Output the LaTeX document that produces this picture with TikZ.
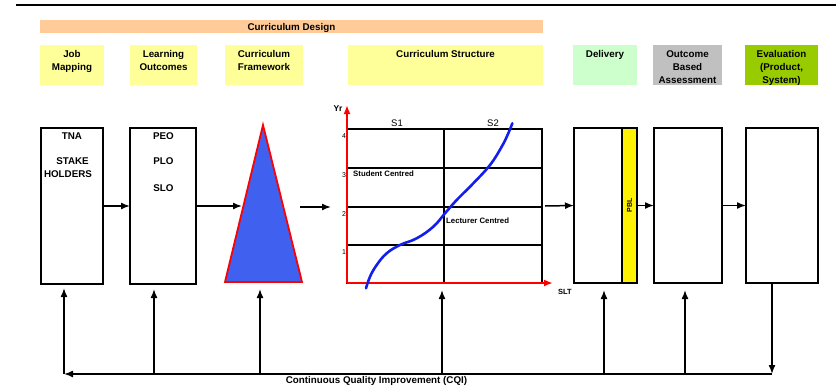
\documentclass[tikz,border=0pt]{standalone}
\usepackage{fontspec}
\setmainfont{Liberation Sans}
\usetikzlibrary{arrows.meta,calc}
\definecolor{peach}{HTML}{FFCC99}
\definecolor{paleyellow}{HTML}{FFFF99}
\definecolor{palegreen}{HTML}{CCFFCC}
\definecolor{midgray}{HTML}{C0C0C0}
\definecolor{leaf}{HTML}{99CC00}
\definecolor{fwblue}{RGB}{64,96,240}
\definecolor{curveblue}{RGB}{20,30,235}
\begin{document}
\begin{tikzpicture}[x=1pt,y=-1pt,
  hdr/.style={anchor=north west, inner sep=0, outer sep=0, minimum height=40pt},
  hdrtext/.style={anchor=north, inner sep=0, align=center, font=\fontsize{9.8}{13}\selectfont\bfseries},
  stage/.style={draw, line width=1.8pt, anchor=north west, inner sep=0, outer sep=0, minimum height=155pt},
  boxtext/.style={anchor=north, inner sep=0, font=\fontsize{9.8}{12}\selectfont\bfseries},
  arr/.style={line width=1.5pt, -{Latex[length=9pt,width=7pt]}},
  gridline/.style={line width=1.6pt},
  axis/.style={red, line width=2pt, -{Latex[length=9pt,width=7pt]}},
  chartlbl/.style={inner sep=0, font=\fontsize{7.8}{10}\selectfont\bfseries},
]
\useasboundingbox (0,0) rectangle (836,386);

% top rule
\draw[line width=1.5pt] (16,5) -- (836,5);

% ---- phase headings ----
\node[hdr, fill=peach, minimum width=503pt, minimum height=13pt] (cd) at (40,20) {};
\node[hdrtext] (cdt) at (291.5,23) {Curriculum Design};

\node[hdr, fill=paleyellow, minimum width=64pt] (hjm) at (40,45) {};
\node[hdrtext] (hjmt) at (hjm.north |- 0,50) {Job\\Mapping};
\node[hdr, fill=paleyellow, minimum width=67pt] (hlo) at (130,45) {};
\node[hdrtext] (hlot) at (hlo.north |- 0,50) {Learning\\Outcomes};
\node[hdr, fill=paleyellow, minimum width=78pt] (hcf) at (225,45) {};
\node[hdrtext] (hcft) at (hcf.north |- 0,50) {Curriculum\\Framework};
\node[hdr, fill=paleyellow, minimum width=195pt] (hcs) at (348,45) {};
\node[hdrtext] (hcst) at (hcs.north |- 0,50) {Curriculum Structure};
\node[hdr, fill=palegreen, minimum width=64pt] (hdl) at (573,45) {};
\node[hdrtext] (hdlt) at (hdl.north |- 0,50) {Delivery};
\node[hdr, fill=midgray, minimum width=69pt] (hob) at (653,45) {};
\node[hdrtext] (hobt) at (hob.north |- 0,50) {Outcome\\Based\\Assessment};
\node[hdr, fill=leaf, minimum width=73pt] (hev) at (745,45) {};
\node[hdrtext] (hevt) at (hev.north |- 0,50) {Evaluation\\(Product,\\System)};

% ---- stage boxes ----
\node[stage, minimum width=62pt, minimum height=156pt] (tna) at (41,128) {};
\node[boxtext] (tnat) at (72,133) {TNA};
\node[boxtext] (stk) at (72.5,157) {STAKE};
\node[boxtext] (hld) at (68,170) {HOLDERS};

\node[stage, minimum width=66pt, minimum height=156pt] (lo) at (130,128) {};
\node[boxtext] (peo) at (163.5,132.5) {PEO};
\node[boxtext] (plo) at (163.5,157) {PLO};
\node[boxtext] (slo) at (163.5,184) {SLO};

% curriculum framework triangle
\coordinate (fwtop) at (263,125);
\coordinate (fwbr) at (302,282);
\coordinate (fwbl) at (225,282);
\draw[red, line width=1.8pt, fill=fwblue] (fwtop) -- (fwbr) -- (fwbl) -- cycle;
\coordinate (fwin) at (242,206);
\coordinate (fwout) at (300,207);
\coordinate (chartin) at (331,207);

% curriculum structure chart
\node[draw, gridline, anchor=south west, inner sep=0, outer sep=0,
      minimum width=195pt, minimum height=154pt] (grid) at (347,283) {};
\draw[gridline] (347,168) -- (542,168);
\draw[gridline] (347,207) -- (542,207);
\draw[gridline] (347,245) -- (542,245);
\draw[gridline] (444,129) -- (444,283);
\coordinate (origin) at (347,283);
\coordinate (ytip) at (347,105);
\coordinate (xtip) at (553,283);
\draw[axis] (origin) -- (ytip);
\draw[axis] (origin) -- (xtip);
\draw[curveblue, line width=2.6pt, line cap=round] plot[smooth, tension=0.7] coordinates
  {(366,288.3) (370,276.7) (376.7,265) (386.7,253.3) (400,245) (416.7,238.3)
   (433.3,226.7) (445,213.3) (456.7,200) (473.3,183.3) (490,165) (501.7,146.7)
   (508.3,133.3) (512.3,123.3)};
\node[chartlbl, font=\fontsize{8.5}{10}\selectfont\bfseries] (yr) at (338,109) {Yr};
\node[chartlbl, font=\fontsize{7}{8}\selectfont] (t4) at (344,136) {4};
\node[chartlbl, font=\fontsize{7}{8}\selectfont] (t3) at (344,175) {3};
\node[chartlbl, font=\fontsize{7}{8}\selectfont] (t2) at (344,214) {2};
\node[chartlbl, font=\fontsize{7}{8}\selectfont] (t1) at (344,252) {1};
\node[chartlbl, font=\fontsize{9.5}{11}\selectfont] (s1) at (397,123) {S1};
\node[chartlbl, font=\fontsize{9.5}{11}\selectfont] (s2) at (493,123) {S2};
\node[chartlbl, anchor=west] (stc) at (353,174) {Student Centred};
\node[chartlbl, anchor=west] (lec) at (446,221) {Lecturer Centred};
\node[chartlbl, font=\fontsize{7.5}{9}\selectfont\bfseries] (slt) at (565,292) {SLT};
\coordinate (chartout) at (545,206);

% delivery, assessment, evaluation
\node[stage, minimum width=63pt] (deliv) at (574,128) {};
\node[stage, fill=yellow, minimum width=15pt] (pbl) at (622,128) {};
\node[inner sep=0, rotate=90, font=\fontsize{7}{8}\selectfont\bfseries] (pblt) at (pbl.center) {PBL};
\node[stage, minimum width=68pt] (oba) at (654,128) {};
\node[stage, minimum width=72pt] (eval) at (746,128) {};

% forward flow
\draw[arr] (tna.east) -- (lo.west);
\draw[arr] (lo.east) -- (lo.east -| fwin);
\draw[arr] (fwout) -- (chartin);
\draw[arr] (chartout) -- (deliv.west);
\draw[arr] (pbl.east) -- (oba.west);
\draw[arr] (oba.east) -- (eval.west);

% continuous quality improvement loop
\coordinate (cqiR) at (772,374);
\coordinate (cqiL) at (64,374);
\coordinate (fb2) at (154,374);
\coordinate (fb3) at (260,374);
\coordinate (fb4) at (442,374);
\coordinate (fb5) at (604,374);
\coordinate (fb6) at (685,374);
\draw[arr] (eval.south -| cqiR) -- (cqiR);
\draw[arr] (cqiR) -- (cqiL);
\draw[arr, shorten >=4pt] (cqiL) -- (cqiL |- tna.south);
\draw[arr, shorten >=5pt] (fb2) -- (fb2 |- lo.south);
\draw[arr, shorten >=7pt] (fb3) -- (fb3 |- fwbl);
\draw[arr, shorten >=7pt] (fb4) -- (fb4 |- grid.south);
\draw[arr, shorten >=7pt] (fb5) -- (fb5 |- deliv.south);
\draw[arr, shorten >=7pt] (fb6) -- (fb6 |- oba.south);
\node[anchor=base, inner sep=0, font=\fontsize{9.8}{12}\selectfont\bfseries] (cqi) at (376.5,383.5)
  {Continuous Quality Improvement (CQI)};
\end{tikzpicture}
\end{document}
